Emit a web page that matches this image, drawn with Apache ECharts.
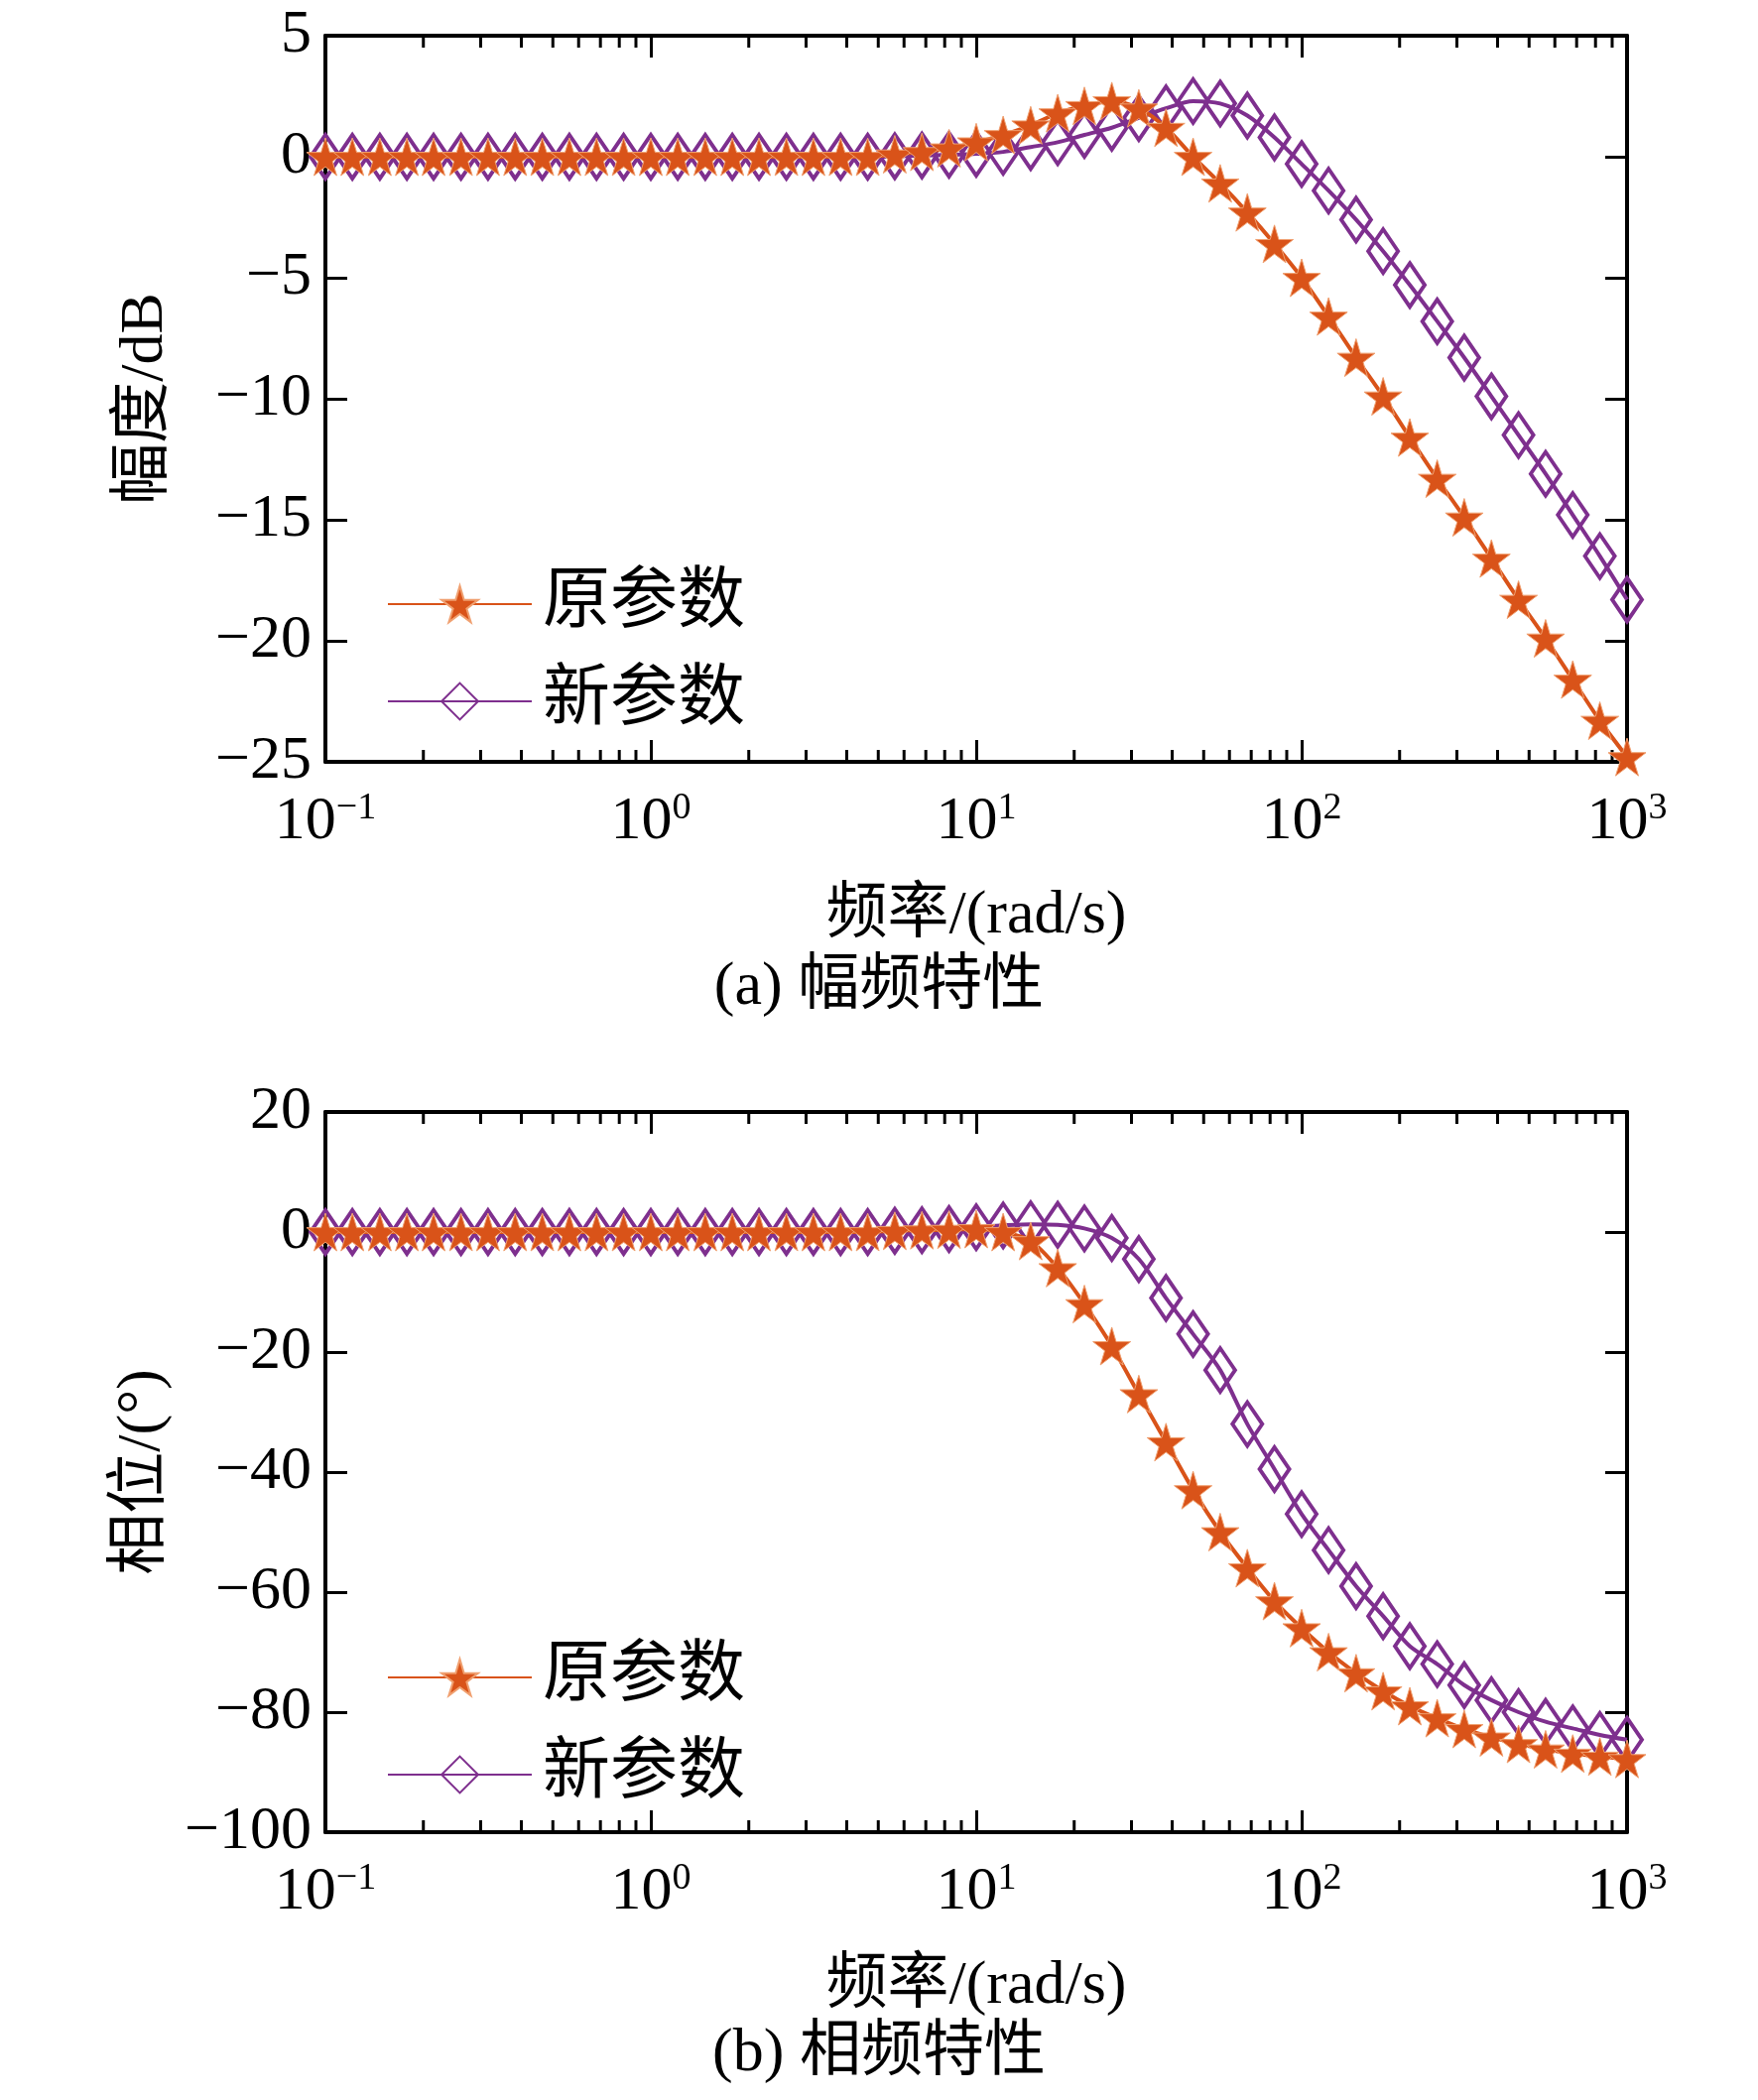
<!DOCTYPE html>
<html>
<head>
<meta charset="utf-8">
<script src="https://cdn.jsdelivr.net/npm/echarts@6/dist/echarts.min.js"></script>
<style>html,body{margin:0;padding:0;background:#fff}#chart{width:1772px;height:2117px}</style>
</head>
<body>
<div id="chart"></div>
<script>
const freq = [0.1,0.121,0.147,0.178,0.215,0.261,0.316,0.383,0.464,0.562,0.681,0.825,
  1,1.21,1.47,1.78,2.15,2.61,3.16,3.83,4.64,5.62,6.81,8.25,
  10,12.1,14.7,17.8,21.5,26.1,31.6,38.3,46.4,56.2,68.1,82.5,
  100,121,147,178,215,261,316,383,464,562,681,825,1000];
const zeros21 = [0,0,0,0,0,0,0,0,0,0,0,0,0,0,0,0,0,0,0,0,0];
const magOld = zeros21.concat([0.1,0.2,0.35,0.6,0.9,1.3,1.8,2.1,2.3,2.0,1.2,0.0,-1.1,-2.3,-3.6,-5.0,
  -6.6,-8.3,-9.9,-11.6,-13.3,-14.9,-16.6,-18.3,-19.9,-21.6,-23.3,-24.8]);
const magNew = zeros21.concat([0.02,0.05,0.08,0.12,0.2,0.4,0.6,0.9,1.2,1.6,2.0,2.3,2.2,1.7,0.8,-0.3,
  -1.4,-2.6,-3.9,-5.3,-6.8,-8.3,-9.9,-11.5,-13.1,-14.8,-16.5,-18.3]);
const phaseOld = zeros21.concat([0.2,0.3,0.4,0.5,0,-1.5,-6,-12,-19,-27,-35,-43,-50,-56,-61.5,-66,
  -70,-73.5,-76.5,-79,-81,-82.8,-84.2,-85.3,-86.2,-86.9,-87.4,-87.8]);
const phaseNew = zeros21.concat([0.2,0.3,0.5,0.8,1.1,1.3,1.2,0.6,-1,-4.5,-11,-17,-23,-32,-39.5,-47,
  -53,-59,-64,-69,-72,-75.5,-78,-80,-81.6,-82.7,-83.8,-84.6]);
const minorTicks = [];
[0.1,1,10,100].forEach(d => { for (let k = 2; k <= 9; k++) minorTicks.push(+(d*k).toPrecision(3)); });
const names = ['原参数', '新参数'];
const ORANGE = '#d95319', PURPLE = '#7e2f8e';
const STAR = 'path://M50,0 L61,35 L98,35 L68,57 L79,91 L50,70 L21,91 L32,57 L2,35 L39,35 Z';
const FONT = '"Liberation Serif","Noto Sans CJK SC",serif';
const FS = 62;

const pair = arr => freq.map((f, i) => [f, arr[i]]);
const sup = {'-1':'−1','0':'0','1':'1','2':'2','3':'3'};

function xAxes(gi) {
  const base = {type:'log', logBase:10, min:0.1, max:1000, interval:1, gridIndex:gi,
    axisLine:{onZero:false, lineStyle:{color:'#000', width:4}}, splitLine:{show:false},
    minorTick:{show:false},
    axisTick:{inside:true, length:22, lineStyle:{color:'#000', width:3}}};
  return [
    Object.assign({}, base, {position:'bottom', name:'频率/(rad/s)', nameLocation:'middle', nameGap:125,
      nameTextStyle:{fontFamily:FONT, fontSize:FS, color:'#000'},
      axisLabel:{margin:28, fontFamily:FONT, fontSize:FS, color:'#000',
        formatter: v => '10{s|' + sup[String(Math.round(Math.log10(v)))] + '}',
        rich:{s:{fontSize:38, fontFamily:FONT, color:'#000', padding:[0,0,28,0]}}}}),
    Object.assign({}, base, {position:'top', axisLabel:{show:false}})
  ];
}
function yAxes(gi, min, max, interval, name) {
  const base = {type:'value', gridIndex:gi, min:min, max:max, interval:interval,
    axisLine:{show:true, onZero:false, lineStyle:{color:'#000', width:4}}, splitLine:{show:false},
    axisTick:{inside:true, length:22, lineStyle:{color:'#000', width:3}}};
  return [
    Object.assign({}, base, {position:'left', name:name, nameLocation:'middle', nameGap:150,
      nameTextStyle:{fontFamily:FONT, fontSize:FS, color:'#000'},
      axisLabel:{margin:14, fontFamily:FONT, fontSize:FS, color:'#000',
        formatter: v => String(v).replace('-', '−')}}),
    Object.assign({}, base, {position:'right', axisLabel:{show:false}})
  ];
}
function tickSeries(xi, yi) {
  return {type:'custom', xAxisIndex:xi, yAxisIndex:yi, silent:true, data:minorTicks.map(v => [v]),
    renderItem:(params, api) => {
      const p = api.coord([api.value(0), 0]);
      const c = params.coordSys;
      return {type:'group', children:[
        {type:'line', shape:{x1:p[0], y1:c.y + c.height, x2:p[0], y2:c.y + c.height - 12}, style:{stroke:'#000', lineWidth:3}},
        {type:'line', shape:{x1:p[0], y1:c.y, x2:p[0], y2:c.y + 12}, style:{stroke:'#000', lineWidth:3}}
      ]};
    }};
}
function lineSeries(name, data, xi, yi, isStar) {
  return {name:name, type:'line', xAxisIndex:xi, yAxisIndex:yi, data:pair(data), smooth:0.3,
    symbol: isStar ? STAR : 'diamond', symbolSize: isStar ? 38 : [30, 44],
    showAllSymbol:true, z:isStar ? 4 : 3,
    lineStyle:{color:isStar ? ORANGE : PURPLE, width:4},
    itemStyle:isStar ? {color:ORANGE, borderColor:'#f0a070', borderWidth:1}
                     : {color:'rgba(0,0,0,0)', borderColor:PURPLE, borderWidth:4}};
}
function legend(top) {
  return {left:385, top:top, orient:'vertical', itemGap:30, itemWidth:145, itemHeight:46,
    selectedMode:false,
    textStyle:{fontFamily:FONT, fontSize:68, color:'#000', padding:[0,0,0,6]}, data:names};
}

const chart = echarts.init(document.getElementById('chart'));
chart.setOption({
  backgroundColor:'#fff',
  animation:false,
  grid:[{left:328, right:132, top:36, height:732}, {left:328, right:132, top:1121, height:726}],
  xAxis: xAxes(0).concat(xAxes(1)),
  yAxis: yAxes(0, -25, 5, 5, '幅度/dB').concat(yAxes(1, -100, 20, 20, '相位/(°)')),
  legend:[legend(570), legend(1652)],
  series:[
    lineSeries(names[0], magOld, 0, 0, true),
    lineSeries(names[1], magNew, 0, 0, false),
    lineSeries(names[0], phaseOld, 2, 2, true),
    lineSeries(names[1], phaseNew, 2, 2, false),
    tickSeries(0, 0), tickSeries(2, 2)
  ],
  graphic:[
    {type:'text', left:'center', top:965, style:{text:'(a) 幅频特性', font:'62px ' + FONT, fill:'#000'}},
    {type:'text', left:'center', top:2040, style:{text:'(b) 相频特性', font:'62px ' + FONT, fill:'#000'}}
  ]
});
</script>
</body>
</html>
